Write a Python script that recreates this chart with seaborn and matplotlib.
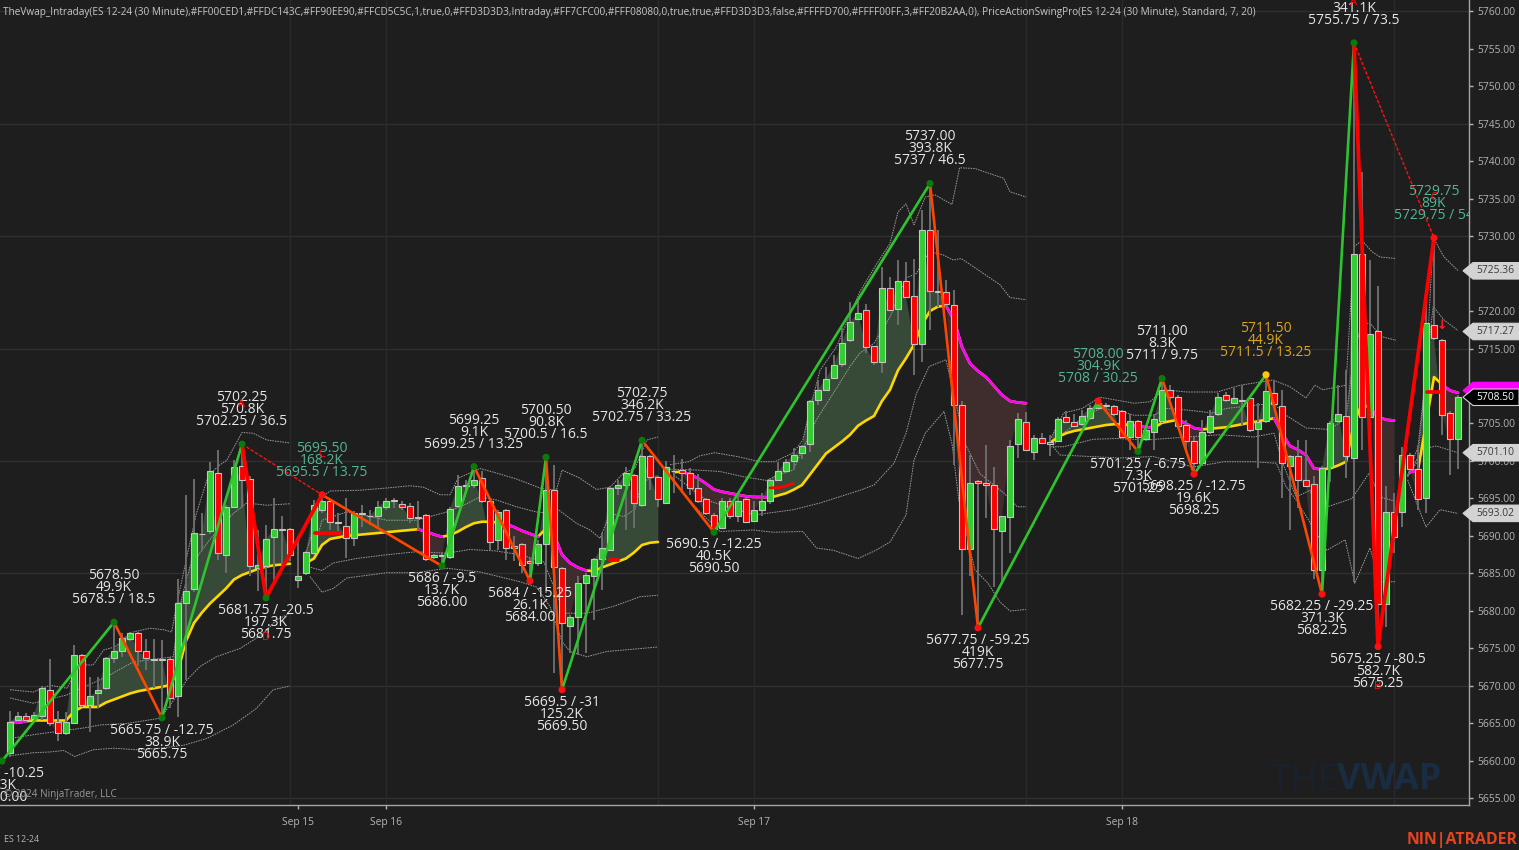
import numpy as np
import pandas as pd
import matplotlib
matplotlib.use('Agg')
import matplotlib.pyplot as plt
import seaborn as sns

# 30 minute candles, one value per bar
opens = [5661, 5665.5, 5666, 5665.6, 5666, 5669.4, 5665.25, 5663.7, 5665, 5674.1,
         5667.5, 5669, 5669.7, 5673.7, 5674.7, 5676.2, 5677, 5674.7, 5673.5, 5673.6,
         5673.6, 5668.7, 5681, 5682.9, 5690.2, 5690.6, 5698.4, 5687.5, 5693.9, 5699.3,
         5697.6, 5685.7, 5686, 5689.8, 5690.8, 5690.9, 5684.1, 5685, 5687.7, 5693.5,
         5694.6, 5691.9, 5691.3, 5689.7, 5693.1, 5692.6, 5692.7, 5693.9, 5694.6, 5694.3,
         5694, 5692.4, 5692.8, 5687.2, 5687.5, 5687.2, 5694, 5696.7, 5696.8, 5697.7,
         5694.6, 5689.4, 5693.4, 5688.6, 5688.9, 5686.6, 5686.4, 5688.9, 5696.1, 5685.7,
         5678, 5679.2, 5683.7, 5684.6, 5686.9, 5688.1, 5696.4, 5696.8, 5698.1, 5694.1,
         5700.6, 5697.8, 5694.4, 5698.6, 5698.8, 5698.4, 5696.4, 5694.9, 5692.8, 5691.1,
         5694.6, 5692.6, 5694.9, 5692, 5693.5, 5694.6, 5697.5, 5698.6, 5700, 5701.1,
         5702.3, 5708.1, 5709.5, 5711.1, 5712.9, 5716.1, 5718.9, 5720.1, 5715.3, 5713.2,
         5723.1, 5720.3, 5724, 5722, 5715.6, 5730.8, 5722.7, 5722.6, 5720.8, 5707.5,
         5688.2, 5697.3, 5697.1, 5696.8, 5690.7, 5692.5, 5702.3, 5705.2, 5701.2, 5703,
         5702.5, 5702.7, 5705.8, 5705.2, 5704.9, 5705.7, 5707.1, 5707.5, 5707.3, 5706.6,
         5703.2, 5705.3, 5702.9, 5703.9, 5705.3, 5709.5, 5708.6, 5704.8, 5702.6, 5699.7,
         5703.8, 5706.3, 5708.8, 5707.8, 5708, 5708.4, 5704.3, 5705.3, 5709.1, 5707.3,
         5699.3, 5700.6, 5697.4, 5696.9, 5685.4, 5699.2, 5705.3, 5706, 5700.4, 5727.6,
         5705.8, 5717.4, 5680.9, 5693.2, 5693.2, 5700.8, 5698.9, 5695.1, 5718.1, 5716.1, 5706.4, 5702.9]
closes = [5665.25, 5666, 5665.5, 5666.1, 5669.7, 5665, 5663.7, 5665.25, 5674.1, 5667.5,
          5668.6, 5669.4, 5673.7, 5674.7, 5676.4, 5677, 5674.7, 5673.7, 5673.6, 5673.5,
          5668.4, 5681, 5682.6, 5690.4, 5690.3, 5698.6, 5687.7, 5693.9, 5699.2, 5697.5,
          5686, 5686.1, 5689.6, 5690.9, 5690.9, 5687.5, 5684.6, 5687.9, 5694.1, 5694.6,
          5691.9, 5691.7, 5689.7, 5693, 5692.9, 5692.7, 5693.9, 5694.6, 5694.8, 5693.9,
          5692.4, 5692.5, 5686.9, 5687.4, 5687.3, 5693.6, 5696.7, 5696.8, 5697.5, 5694.6,
          5689.2, 5693.2, 5688.4, 5688.4, 5686.1, 5686.4, 5688.9, 5696.1, 5685.9, 5678.4,
          5679.2, 5683.7, 5684.8, 5686.9, 5688.4, 5696.4, 5696.8, 5698.4, 5694.4, 5700.6,
          5697.9, 5694.9, 5699.2, 5698.7, 5698.4, 5696.4, 5694.6, 5693.1, 5690.9, 5694.6,
          5692.6, 5694.6, 5691.9, 5693.5, 5694.7, 5697.5, 5698.6, 5699.9, 5700.8, 5702,
          5708, 5709.5, 5711, 5712.8, 5715.8, 5718.5, 5719.8, 5715.2, 5713.2, 5723.1,
          5720.2, 5724, 5721.9, 5715.6, 5730.8, 5722.7, 5722.5, 5720.9, 5707.5, 5688.2,
          5697.1, 5697.1, 5696.8, 5690.9, 5692.6, 5702, 5705.6, 5701.5, 5703, 5702.4,
          5702.3, 5705.6, 5705.2, 5704.7, 5706, 5707.1, 5707.7, 5707.3, 5706.3, 5703.2,
          5705.3, 5703.2, 5704.1, 5705.6, 5709.5, 5708.5, 5704.6, 5702.7, 5699.7, 5703.8,
          5706, 5708.6, 5708.1, 5708.4, 5708.1, 5704.1, 5705.2, 5709.3, 5707.6, 5699.7,
          5700.6, 5697.5, 5696.7, 5685.5, 5699.1, 5705.1, 5706.3, 5700.7, 5727.6, 5705.8,
          5717, 5680.9, 5693.2, 5689.8, 5700.8, 5698.9, 5694.9, 5718.4, 5716.4, 5706.1, 5702.9, 5708.6]
highs = [5666.6, 5666.5, 5666.4, 5666.5, 5670, 5673.6, 5666.6, 5666.5, 5675.5, 5674.3,
         5671.2, 5671.2, 5673.9, 5678.5, 5677, 5677.2, 5677.2, 5676.3, 5676.3, 5676.1,
         5673.8, 5684.3, 5695.5, 5697.6, 5693, 5699.8, 5701.4, 5694.1, 5700.1, 5702.25,
         5698, 5690.8, 5691.5, 5695, 5692.6, 5691, 5690, 5688, 5694.8, 5695.5,
         5694.8, 5693, 5695, 5693.3, 5694.1, 5693.5, 5694.6, 5695, 5695, 5694.6,
         5694.4, 5694.6, 5692.9, 5687.6, 5687.8, 5693.8, 5698.1, 5697.5, 5699.25, 5698.6,
         5694.8, 5693.4, 5693.6, 5690, 5689, 5687, 5689.5, 5700.5, 5699.5, 5685.9,
         5679.4, 5684.6, 5685, 5687, 5690.4, 5696.6, 5697.5, 5699.2, 5698.3, 5702.75,
         5700.8, 5698, 5700, 5700.8, 5700.3, 5699, 5698.3, 5695.1, 5693, 5695,
         5695, 5695.7, 5695, 5694.7, 5695.7, 5697.7, 5699.9, 5700.3, 5701.7, 5702.1,
         5708.1, 5710.8, 5712.6, 5714.1, 5717.7, 5721.2, 5721.5, 5721, 5715.4, 5725.9,
         5724.6, 5726.8, 5726.6, 5727, 5733.5, 5737, 5730.8, 5724.2, 5722.8, 5708,
         5700.8, 5697.4, 5702.1, 5699.2, 5692.7, 5702.8, 5706.4, 5706.5, 5703.4, 5703.7,
         5703.5, 5705.8, 5706.7, 5706.3, 5706.8, 5707.5, 5708, 5707.8, 5707.5, 5706.8,
         5706.3, 5705.5, 5704.5, 5706.3, 5711, 5710.1, 5708.8, 5705.5, 5703.2, 5705.5,
         5706.8, 5709.1, 5709.2, 5709.7, 5710.1, 5708.6, 5707.7, 5711.5, 5710.8, 5709.5,
         5700.8, 5702.8, 5702.8, 5698, 5699.3, 5705.3, 5710.1, 5712.1, 5755.75, 5738.6,
         5726.8, 5723.3, 5696.6, 5695.7, 5701.9, 5701, 5702.1, 5721, 5729.75, 5716.3, 5706.6, 5708.8]
lows = [5660.5, 5665.2, 5665, 5665, 5665.5, 5664.6, 5662.6, 5663.5, 5665, 5667.2,
        5663.9, 5667, 5669.4, 5673, 5673.9, 5676, 5672.6, 5672.1, 5669.7, 5665.9,
        5667, 5665.9, 5670.8, 5682.5, 5688, 5690.3, 5686.8, 5685.1, 5693.7, 5693.7,
        5684.6, 5682.6, 5681.75, 5683.7, 5685.5, 5686.6, 5683, 5684.8, 5687.5, 5693,
        5690.8, 5690.3, 5687, 5688.6, 5691.2, 5691.5, 5691.2, 5693.5, 5693.7, 5693.5,
        5691.7, 5690.8, 5686.6, 5686.9, 5686, 5686.9, 5693.9, 5695.8, 5696.4, 5694.4,
        5688.1, 5688.1, 5686.8, 5686.6, 5685, 5684, 5686, 5682.4, 5671.7, 5669.5,
        5674.4, 5674.1, 5674.4, 5678.8, 5682.8, 5688, 5695.5, 5690.8, 5691, 5693.9,
        5696.1, 5693.9, 5694.2, 5695.7, 5695.7, 5695.5, 5694.4, 5692.8, 5690.5, 5691,
        5692.3, 5691.9, 5691.7, 5691.9, 5692.6, 5694.3, 5697.4, 5698.4, 5698.8, 5700.3,
        5701.2, 5707.5, 5709.4, 5711, 5712.6, 5715.9, 5718.8, 5714.4, 5712.8, 5711.7,
        5720, 5718.1, 5721.7, 5711.5, 5713.2, 5717.5, 5720.6, 5720.5, 5699.5, 5679.5,
        5684.6, 5677.75, 5692.4, 5683.2, 5683.9, 5687.7, 5700.4, 5701.3, 5700.1, 5702.2,
        5700.6, 5702.5, 5705, 5704.5, 5704.7, 5705.5, 5706.9, 5707, 5706, 5703,
        5701.5, 5701.25, 5702.6, 5701.5, 5705, 5708.2, 5704.3, 5701.2, 5698.25, 5699.5,
        5703.6, 5706, 5707.9, 5707.6, 5704.8, 5703.9, 5699.1, 5705.1, 5707.4, 5695,
        5690.8, 5693.7, 5696.5, 5684.3, 5682.25, 5697.2, 5705.1, 5697.7, 5683.9, 5701.5,
        5705.6, 5675.25, 5677.9, 5687.7, 5691.2, 5698.7, 5693.4, 5693, 5716.2, 5703.5, 5698.1, 5698.9]

nan = np.nan
# intraday vwap, blank where a session has not started yet
vwap = [5665.1, 5665.1, 5665.3, 5665.4, 5665.4, 5665.4, 5665.4, 5665.4, 5666.6, 5667.2,
        5667.2, 5667.2, 5667.8, 5668.2, 5668.6, 5669, 5669.3, 5669.5, 5669.7, 5669.9,
        5670.1, 5672, 5676, 5678.4, 5679.8, 5681, 5682, 5683, 5684.2, 5684.8,
        5685.2, 5685.6, 5685.9, 5686.1, 5686.2, 5686.3, nan, 5686.4, 5687, 5688.8,
        5689.6, 5689.8, 5690, 5690.1, 5690.2, 5690.3, 5690.4, 5690.5, 5690.6, 5690.7,
        5690.8, 5690.9, 5690.6, 5690.2, 5689.9, 5690.1, 5690.6, 5691.2, 5691.7, 5691.9,
        5691.9, 5691.8, 5691.6, 5691.2, 5690.7, 5690.3, 5689.9, 5691, 5690.2, 5687.5,
        5686.4, 5685.8, 5685.4, 5685.3, 5685.8, 5686.2, 5686.6, 5687, 5687.8, 5688.8,
        5689.1, 5689.2, nan, 5698.5, 5698.6, 5698.2, 5697.7, 5697, 5696.2, 5695.9,
        5695.7, 5695.5, 5695.3, 5695.2, 5695.2, 5695.1, 5695.4, 5695.7, 5696.2, 5696.8,
        5698.2, 5699.6, 5701, 5701.8, 5702.6, 5703.5, 5704.7, 5705.4, 5706, 5708,
        5709.5, 5712.1, 5713.7, 5715.5, 5718.2, 5720, 5720.6, 5720.7, 5718.8, 5715.2,
        5713, 5712, 5711.2, 5710, 5708.8, 5708, 5707.8, 5707.7, nan, nan,
        5702.4, 5703.2, 5703.7, 5704, 5704.2, 5704.4, 5704.6, 5704.8, 5704.9, 5704.9,
        5704.8, 5704.7, 5704.5, 5704.4, 5705.1, 5705.3, 5705.5, 5705, 5704.4, 5704.2,
        5704.3, 5704.4, 5704.5, 5704.7, 5704.9, 5705.1, 5705.3, 5705.5, 5705.7, 5703.7,
        5702, 5701.5, 5700.8, 5699, 5698.9, 5699, 5699.4, 5699.9, 5705, 5707.7,
        5707, 5705.9, 5705.5, 5705.4, nan, 5698.5, 5698.8, 5705, 5711.2, 5710.2, 5709.4, 5709.1]
vwap_down_first = [0, 51, 62, 67, 84, 117, 140, 146, 158, 170, 175, 179]
vwap_down_last = [2, 54, 66, 72, 95, 127, 143, 149, 164, 173, 176, 181]

# std dev bands, read at the bends, nan ends a session
upper2_x = [0, 2.9, 5, 7.1, 8.75, 10.4, 11.7, 13.1, 15.4, 17.5, 19.2, 20.2, 20.8, 22.1, 23.3, 24.8, 26.25, 27.1, 29, 30.4, 32.1, 35, nan,
            37, 38.1, 39, 40, 43.75, 47.1, 50, 51.7, 53.75, 55, 56, 58.75, 60.8, 63.3, 66.25, 68.3, 69, 71.25, 73.3, 75, 76.7, 78.1, 79.6, 81, nan,
            82.5, 84.8, 86.25, 88.1, 90.9, 93.75, 95.6, 97.9, 99.1, 100.4, 101.25, 103.3, 106.25, 108.4, 110, 111, 112, 113, 114.4, 115.6, 117.75, 118.7, 120.6, 124.2, 125, 127, nan,
            130, 131.7, 134, 136.25, 138.4, 140.5, 142.5, 144.2, 147.1, 150.9, 153.75, 157.9, 160, 162, 163.1, 164.1, 167, 168, 169, 170.25, 171.25, 173.25, nan,
            174.7, 176, 177, 177.9, 179.25, 181]
upper2_y = [5669.5, 5669.2, 5670.1, 5669.7, 5672.8, 5672.8, 5674.8, 5675.2, 5677.2, 5677.7, 5677.5, 5677.2, 5680.6, 5687.2, 5693, 5698.1, 5699.5, 5700.1, 5703.8, 5703.7, 5702.8, 5702.4, nan,
            5687.7, 5691.7, 5695.2, 5696, 5696.1, 5696.4, 5696.7, 5696.5, 5695.5, 5695.5, 5697.7, 5699, 5698.4, 5697.6, 5696.4, 5696.1, 5698.8, 5697.7, 5696.2, 5696.5, 5698.4, 5699, 5702.8, 5703.2, nan,
            5699.5, 5699.9, 5700.7, 5701.1, 5700.6, 5699.9, 5699.9, 5701.1, 5702.8, 5708.6, 5712.1, 5715.2, 5722.6, 5726.4, 5729, 5733.2, 5734.3, 5731.5, 5735.2, 5735.5, 5734.2, 5739.1, 5739, 5737.7, 5735.9, 5735.2, nan,
            5702.8, 5706.4, 5707, 5708.5, 5708.1, 5707.7, 5707.9, 5709.5, 5709.2, 5709.2, 5710.1, 5710.8, 5709.9, 5708.4, 5710.1, 5709.5, 5710.1, 5728.6, 5729.4, 5727.9, 5727.2, 5727, nan,
            5698.1, 5701.9, 5711.7, 5729.8, 5727.2, 5725.4]
upper1_x = [0, 2.9, 7.1, 12, 15.4, 20.4, 21.5, 22.5, 24.6, 26.25, 27.9, 29.6, 32.1, 35, nan,
            38.1, 39, 40.4, 42.1, 44.2, 47.1, 50.8, 54.6, 56.7, 58.75, 60.8, 63.3, 65.8, 67.5, 68.3, 70.8, 72.5, 73.75, 75, 76.7, 78.1, 79, 81, nan,
            82.5, 85.8, 88.75, 91.7, 94.6, 95.9, 97.9, 99.8, 100.8, 102.9, 105, 106.25, 108, 110, 112, 113.3, 114.9, 116.6, 117.9, 118.9, 121, 123.75, 125, 127, nan,
            130.4, 131.7, 134, 136.25, 138.4, 140.5, 143, 144.6, 147.1, 150.4, 152, 157.9, 159.5, 162, 165, 167, 168, 168.9, 170, 171.4, 173.25, nan,
            174.7, 176, 177.4, 177.9, 179.25, 181]
upper1_y = [5668.4, 5667.7, 5668.8, 5671.2, 5673.2, 5673.9, 5681.9, 5685.9, 5689, 5691.2, 5693, 5694.4, 5694.1, 5694.3, nan,
            5688.6, 5692.1, 5692.6, 5693.2, 5692.8, 5692.1, 5692.1, 5693.2, 5694.1, 5695.2, 5694.8, 5693.9, 5693.2, 5693, 5693.7, 5691.7, 5690.8, 5689.7, 5693, 5692.6, 5693.5, 5697.2, 5698.1, nan,
            5698.9, 5698.8, 5698.6, 5697.9, 5697.4, 5698.1, 5698.8, 5703.2, 5705.5, 5709, 5712.6, 5714.4, 5715.7, 5719.2, 5724.4, 5725, 5727.9, 5727.5, 5726.8, 5727, 5725.5, 5723.5, 5721.8, 5721.5, nan,
            5702.1, 5703.7, 5705.7, 5707, 5706.8, 5706.1, 5706.1, 5707, 5706.8, 5706.4, 5707, 5707.7, 5706.1, 5704.4, 5704.2, 5705.7, 5714.3, 5718.1, 5718.4, 5716.6, 5716.1, nan,
            5698, 5700.5, 5716, 5720.6, 5718.8, 5717.4]
lower1_x = [0, 2.9, 7.1, 9.2, 11.25, 14.6, 18.75, 20.8, 22.1, 23.75, 25.8, 28.75, 31.7, 33.3, 35, nan,
            37.3, 39, 40.4, 43.3, 47.1, 50.8, 54.6, 57.5, 60.8, 63.75, 66.7, 68.3, 69.2, 72.1, 75.4, 78.75, 81, nan,
            83, 87, 93, 97.9, 101.25, 106.25, 108, 110.5, 112, 113.3, 114.9, 117, 119.4, 121.25, 124.25, 125.9, 127, nan,
            130, 131.7, 135.4, 138.4, 142, 147.1, 151.25, 155.4, 158, 159.1, 160.75, 162.5, 163.4, 165.25, 167.75, 169.9, 171.25, 173.25, nan,
            174.7, 177, 178.3, 181]
lower1_y = [5663, 5663.5, 5664.1, 5664.4, 5664.8, 5665, 5665.7, 5668.6, 5670.8, 5672.6, 5673.9, 5675, 5677, 5678.8, 5679.7, nan,
            5685.9, 5685.4, 5686.4, 5687, 5687.5, 5687.9, 5687.7, 5688.2, 5688, 5687.5, 5686.6, 5682.4, 5679.7, 5679.7, 5680.6, 5681.9, 5682.1, nan,
            5698.1, 5694.8, 5692.8, 5693.5, 5694.4, 5696.1, 5696.8, 5699.7, 5703.7, 5709, 5712.6, 5713.5, 5702.3, 5698.3, 5695.7, 5693.9, 5693.9, nan,
            5701.9, 5701.9, 5702.9, 5703, 5702.8, 5703.2, 5703.5, 5703.2, 5703.7, 5699.7, 5695.2, 5696.1, 5693.5, 5694.1, 5695, 5698.4, 5695.2, 5694.6, nan,
            5697.9, 5701.7, 5702, 5701.1]
lower2_x = [0, 2.9, 5, 6.7, 8.1, 10.4, 13, 15.8, 18.75, 21.7, 24.6, 27.9, 30.8, 32.9, 35, nan,
            37.5, 39, 40.4, 42.1, 47.1, 50.8, 54.6, 58.75, 63.75, 65.8, 67.5, 69, 70, 72.1, 74.6, 81, nan,
            83, 86, 88.75, 92.9, 95.4, 99.1, 100.8, 102.9, 106, 108.25, 110, 112, 113, 114.4, 116.75, 117.75, 118.6, 120.6, 122.25, 123.75, 125, 127, nan,
            130.4, 131.25, 138.75, 142.9, 147.9, 151.75, 155.4, 158.3, 159.5, 160.75, 163.1, 164.6, 166.9, 168.1, 170, 171.25, 173.25, nan,
            174.7, 177, 178.75, 181]
lower2_y = [5660.7, 5661.1, 5661.2, 5661.4, 5660.6, 5661.5, 5661.7, 5661.5, 5661.7, 5662.1, 5663, 5664.8, 5667, 5669.5, 5670, nan,
            5684.6, 5682.5, 5683, 5684.4, 5685.1, 5685.1, 5685.7, 5685.2, 5683.9, 5683.2, 5680.6, 5675.9, 5674.6, 5673.9, 5674.6, 5675.2, nan,
            5697.2, 5693.5, 5690.6, 5690.8, 5690.5, 5690.6, 5688.4, 5688.1, 5687, 5688.1, 5689.2, 5692.8, 5700.1, 5703.7, 5706.6, 5702.3, 5694.8, 5685.5, 5683.7, 5681.2, 5680, 5680.2, nan,
            5701.9, 5700.8, 5700.4, 5700.6, 5699.2, 5699.9, 5699.9, 5699.7, 5696.6, 5694.8, 5690.8, 5688.1, 5689.5, 5683.7, 5688.4, 5683.9, 5683.9, nan,
            5697.5, 5691.2, 5693.5, 5693]

# swing points
swing_bars = [-1, 13, 19, 29, 32, 39, 54, 58, 65, 67, 69, 79, 88, 115, 121, 136, 141, 144, 148, 157, 164, 168, 171, 178]
swing_prices = [5660, 5678.5, 5665.75, 5702.25, 5681.75, 5695.5, 5686, 5699.25, 5684, 5700.5, 5669.5, 5702.75,
                5690.5, 5737, 5677.75, 5708, 5701.25, 5711, 5698.25, 5711.5, 5682.25, 5755.75, 5675.25, 5729.75]
swing_sizes = [-10.25, 18.5, -12.75, 36.5, -20.5, 13.75, -9.5, 13.25, -15.25, 16.5, -31, 33.25,
               -12.25, 46.5, -59.25, 30.25, -6.75, 9.75, -12.75, 13.25, -29.25, 73.5, -80.5, 54]
swing_volumes = ['9.3K', '49.9K', '38.9K', '570.8K', '197.3K', '168.2K', '13.7K', '9.1K', '26.1K', '90.8K', '125.2K', '346.2K',
                 '40.5K', '393.8K', '419K', '304.9K', '7.3K', '8.3K', '19.6K', '44.9K', '371.3K', '341.1K', '582.7K', '89K']
dot_colors = ['#0B7A0B', '#0B7A0B', '#0B7A0B', '#0B7A0B', '#0B7A0B', '#FF1010', '#0B7A0B', '#0B7A0B', '#FF1010', '#0B7A0B', '#FF1010', '#0B7A0B',
              '#0B7A0B', '#0B7A0B', '#FF1010', '#FF1010', '#0B7A0B', '#0B7A0B', '#FF1010', '#FFC800', '#FF1010', '#0B7A0B', '#FF1010', '#FF1010']
text_colors = ['#E6E6E6'] * 24
for k in [5, 15, 23]:
    text_colors[k] = '#52B594'
text_colors[19] = '#DAA520'
red_legs = [3, 4, 21, 22]  # legs of the ABCD patterns
abcd_points = [3, 4, 5, 21, 22, 23]
abcd_letters = ['A', 'D', 'C', 'A', 'B', 'C']

stub_first = [38.1, 75, 177.1]
stub_last = [41.25, 76, 179]
stub_prices = [5690.35, 5686.8, 5709.15]
arc_bars = [95, 96.5, 97.9]
arc_prices = [5696.4, 5696.5, 5697]

tag_prices = [5725.36, 5717.27, 5701.10, 5693.02]
last_price = 5708.50
vwap_tag_price = 5709.4
y_ticks = np.arange(5655, 5765, 5)
grid_prices = [5655, 5670, 5685, 5700, 5715, 5730, 5745, 5760]
grid_bars = [35, 47, 81, 93, 127, 139, 173]
date_bars = [36, 47, 93, 139]
date_labels = ['Sep 15', 'Sep 16', 'Sep 17', 'Sep 18']

header = ('TheVwap_Intraday(ES 12-24 (30 Minute),#FF00CED1,#FFDC143C,#FF90EE90,#FFCD5C5C,1,true,0,#FFD3D3D3,Intraday,'
          '#FF7CFC00,#FFF08080,0,true,true,#FFD3D3D3,false,#FFFFD700,#FFFF00FF,3,#FF20B2AA,0), '
          'PriceActionSwingPro(ES 12-24 (30 Minute), Standard, 7, 20)')

BG = '#1E1E1E'
sns.set_theme(style='dark', rc={'figure.facecolor': BG, 'axes.facecolor': BG, 'savefig.facecolor': BG})
plt.rcParams['font.family'] = ['Open Sans', 'DejaVu Sans']

fig = plt.figure(figsize=(15.19, 8.5), dpi=100)
ax = fig.add_axes([0, 1 - 805 / 850, 1469 / 1519, 805 / 850])


def draw_line(x, y, **kw):
    # seaborn drops nan and would join the sessions, so draw each run alone
    frame = pd.DataFrame({'bar': x, 'price': y})
    frame['run'] = frame['price'].isna().cumsum()
    for _, run in frame.dropna().groupby('run'):
        if len(run) > 1:
            sns.lineplot(data=run, x='bar', y='price', sort=False, estimator=None, ax=ax, legend=False, **kw)


bars = np.arange(len(opens))
opens = np.array(opens)
closes = np.array(closes)
highs = np.array(highs)
lows = np.array(lows)
vwap = np.array(vwap)
up = closes >= opens

ax.hlines(grid_prices, -2, 190, color='#2F2F2F', lw=1, zorder=0)
ax.vlines(grid_bars, 5650, 5770, color='#2A2A2A', lw=1, zorder=0)

# shading between price and vwap
ax.fill_between(bars, closes, vwap, where=closes >= vwap, interpolate=True, color='#374A38', lw=0, zorder=1)
ax.fill_between(bars, closes, vwap, where=closes < vwap, interpolate=True, color='#3F2C2D', lw=0, zorder=1)

# bands
for bx, by in [(upper2_x, upper2_y), (upper1_x, upper1_y), (lower1_x, lower1_y), (lower2_x, lower2_y)]:
    draw_line(bx, by, color='#9A9A9A', lw=0.7, linestyle=(0, (1.6, 1)), zorder=1.5)

# vwap
draw_line(bars, vwap, color='#FFD700', lw=1.9, zorder=2)
for first, last in zip(vwap_down_first, vwap_down_last):
    draw_line(bars[first:last + 1], vwap[first:last + 1], color='#FF00FF', lw=1.9, zorder=2.1)

# candles
ax.vlines(bars, lows, highs, color='#6C6C6C', lw=1.4, zorder=2.5)
ax.bar(bars, closes - opens, bottom=opens, width=0.66, color=np.where(up, '#32CD32', '#FF0000'),
       edgecolor='#C4C4C4', linewidth=0.8, zorder=3)

# swing legs
for k in range(len(swing_bars) - 1):
    if k in red_legs:
        color, lw = '#FF0000', 2.7
    elif swing_prices[k + 1] > swing_prices[k]:
        color, lw = '#2EC42E', 1.9
    else:
        color, lw = '#FF4500', 1.9
    draw_line(swing_bars[k:k + 2], swing_prices[k:k + 2], color=color, lw=lw, zorder=5)
draw_line([swing_bars[3], swing_bars[5]], [swing_prices[3], swing_prices[5]], color='#FF1010', lw=1, linestyle=(0, (2.5, 1.2)), zorder=4.5)
draw_line([swing_bars[21], swing_bars[23]], [swing_prices[21], swing_prices[23]], color='#FF1010', lw=1, linestyle=(0, (2.5, 1.2)), zorder=4.5)
for first, last, price in zip(stub_first, stub_last, stub_prices):
    draw_line([first, last], [price, price], color='#FF0000', lw=2.7, zorder=4.8)
draw_line(arc_bars, arc_prices, color='#FF0000', lw=2, zorder=4.8)

sns.scatterplot(x=swing_bars, y=swing_prices, hue=dot_colors, palette={c: c for c in set(dot_colors)},
                s=26, linewidth=0, legend=False, ax=ax, zorder=6)

# swing labels, three tight lines above a high and below a low
LINE = 12 * 0.72
for k, (bar, price) in enumerate(zip(swing_bars, swing_prices)):
    top = f'{price:.2f}'
    bottom = f'{price:g} / {swing_sizes[k]:g}'
    if swing_sizes[k] > 0:
        lines = [top, swing_volumes[k], bottom]
        offsets = [LINE * 4 - 1, LINE * 3 - 1, LINE * 2 - 1]
    else:
        lines = [bottom, swing_volumes[k], top]
        offsets = [-LINE - 0.5, -LINE * 2 - 0.5, -LINE * 3 - 0.5]
    for line, off in zip(lines, offsets):
        ax.annotate(line, (bar, price), xytext=(0, off), textcoords='offset points', ha='center', va='center',
                    color=text_colors[k], fontsize=10, clip_on=True, annotation_clip=False, zorder=7)

for point, letter in zip(abcd_points, abcd_letters):
    off = 40 * 0.72 if swing_sizes[point] > 0 else -40 * 0.72
    ax.annotate(letter, (swing_bars[point], swing_prices[point]), xytext=(0, off), textcoords='offset points',
                ha='center', va='center', color='#FF1010', fontsize=8, clip_on=True, zorder=7)
ax.annotate('↓', (179, 5718.1), ha='center', va='center', color='#FF2020', fontsize=9, fontweight='bold',
            family='DejaVu Sans', zorder=7)

# axes
ax.set_xlim(-1.25, 182.375)
ax.set_ylim(5654.13, 5761.47)
ax.set_xlabel('')
ax.set_ylabel('')
ax.yaxis.tick_right()
ax.set_yticks(y_ticks)
ax.set_yticklabels([f'{t:.2f}' for t in y_ticks])
ax.set_xticks(date_bars)
ax.set_xticklabels(date_labels)
ax.tick_params(axis='both', colors='#B4B4B4', labelsize=7.4, length=3, width=1, pad=3, bottom=True, right=True, left=False)
ax.tick_params(axis='x', pad=6)
ax.grid(False)
for side in ['top', 'left']:
    ax.spines[side].set_visible(False)
for side in ['bottom', 'right']:
    ax.spines[side].set_visible(True)
    ax.spines[side].set_color('#A6A6A6')
    ax.spines[side].set_linewidth(1)

# price tags on the right axis
tag = ax.get_yaxis_transform()
tag_x = [1463 / 1469, 1473 / 1469, 1519 / 1469, 1519 / 1469, 1473 / 1469]


def price_tag(price, face, edge, ink, label=True):
    ax.fill(tag_x, [price, price + 1.1, price + 1.1, price - 1.1, price - 1.1], transform=tag, facecolor=face,
            edgecolor=edge, lw=0.8, clip_on=False, zorder=8)
    if label:
        ax.text(1476 / 1469, price, f'{price:.2f}', transform=tag, color=ink, fontsize=7.4, va='center', ha='left',
                clip_on=False, zorder=9)


for price in tag_prices:
    price_tag(price, '#D3D3D3', '#D3D3D3', '#3A3A3A')
price_tag(vwap_tag_price, '#FF00FF', '#FF00FF', '#000000', label=False)
price_tag(last_price, '#000000', '#D0D0D0', '#FFFFFF')

# texts round the chart
fig.text(3 / 1519, 1 - 13 / 850, header, color='#C6C6C6', fontsize=7.2, va='center', ha='left')
fig.text(4 / 1519, 1 - 795 / 850, '© 2024 NinjaTrader, LLC', color='#9A9A9A', fontsize=7.1, va='center', ha='left', zorder=10)
fig.text(4 / 1519, 1 - 839.5 / 850, 'ES 12-24', color='#B4B4B4', fontsize=6.4, va='center', ha='left')
fig.text(1517 / 1519, 1 - 839.5 / 850, 'NIN|ATRADER', color='#E8431F', fontsize=11.4, fontweight='bold', va='center', ha='right')
fig.text(1270 / 1519, 1 - 780 / 850, 'THE', color='#18212C', fontsize=26, va='center', ha='left', family='Lato', zorder=1)
fig.text(1337 / 1519, 1 - 780 / 850, 'VWAP', color='#1A2C42', fontsize=26, fontweight='bold', va='center', ha='left', family='Open Sans', zorder=1)

fig.savefig('out.png', dpi=100)
